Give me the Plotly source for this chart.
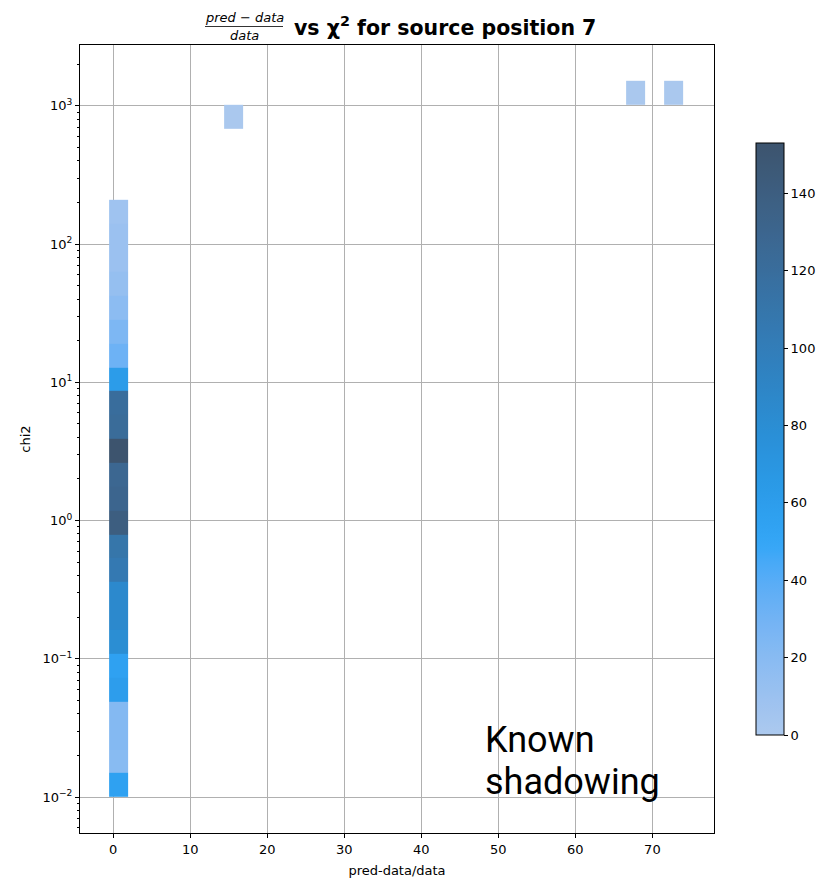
import math
import numpy as np
import plotly.graph_objects as go

# ---- histogram binning: 30 linear bins in pred-data/data, 30 log bins in chi2
x_lo, x_width, n_x = -0.52, 2.4833, 30
logy_lo, logy_width, n_y = -2.0, 0.1727, 30

# counts in the first pred-data/data bin, lowest chi2 bin first
column_counts = [55, 20, 22, 22, 60, 55, 80, 85, 85, 105, 110, 140, 130,
                 128, 153, 122, 120, 62, 32, 25, 18, 13, 10, 10, 8]

# isolated cells: (x bin index, chi2 bin index, count)
outlier_xbin = [6, 27, 29]
outlier_ybin = [28, 29, 29]
outlier_count = [1, 1, 1]

x_ticks = [0, 10, 20, 30, 40, 50, 60, 70]
y_ticks = [0.01, 0.1, 1, 10, 100, 1000]
y_ticktext = ["10<sup>−2</sup>", "10<sup>−1</sup>", "10<sup>0</sup>",
              "10<sup>1</sup>", "10<sup>2</sup>", "10<sup>3</sup>"]
cbar_ticks = [0, 20, 40, 60, 80, 100, 120, 140]

# ---- HUSL helpers (seaborn-style sequential colormap from a seed colour)
M = [[3.2406, -1.5372, -0.4986], [-0.9689, 1.8758, 0.0415], [0.0557, -0.2040, 1.0570]]
M_INV = [[0.4124, 0.3576, 0.1805], [0.2126, 0.7152, 0.0722], [0.0193, 0.1192, 0.9505]]
REF_U, REF_V = 0.19784, 0.46834
KAPPA, EPS = 903.3, 0.008856


def max_chroma(L, H):
    hr = math.radians(H)
    sh, ch = math.sin(hr), math.cos(hr)
    sub1 = (L + 16) ** 3 / 1560896.0
    sub2 = sub1 if sub1 > EPS else L / KAPPA
    best = float("inf")
    for m1, m2, m3 in M:
        top = (0.99915 * m1 + 1.05122 * m2 + 1.14460 * m3) * sub2
        rb = 0.86330 * m3 - 0.17266 * m2
        lb = 0.12949 * m3 - 0.38848 * m1
        bottom = (rb * sh + lb * ch) * sub2
        for t in (0.0, 1.0):
            C = L * (top - 1.05122 * t) / (bottom + 0.17266 * sh * t)
            if 0 < C < best:
                best = C
    return best


def to_lin(c):
    return ((c + 0.055) / 1.055) ** 2.4 if c > 0.04045 else c / 12.92


def from_lin(c):
    return 1.055 * c ** (1 / 2.4) - 0.055 if c > 0.0031308 else 12.92 * c


def rgb_to_husl(r, g, b):
    lin = [to_lin(c) for c in (r, g, b)]
    X, Y, Z = [sum(M_INV[i][j] * lin[j] for j in range(3)) for i in range(3)]
    L = 116 * Y ** (1 / 3) - 16 if Y > EPS else KAPPA * Y
    d = X + 15 * Y + 3 * Z
    U = 13 * L * (4 * X / d - REF_U)
    V = 13 * L * (9 * Y / d - REF_V)
    C = math.hypot(U, V)
    H = math.degrees(math.atan2(V, U)) % 360
    return H, C / max_chroma(L, H) * 100, L


def husl_to_rgb(H, S, L):
    if L > 99.9999:
        return (1.0, 1.0, 1.0)
    if L < 1e-5:
        return (0.0, 0.0, 0.0)
    C = max_chroma(L, H) / 100 * S
    U = math.cos(math.radians(H)) * C
    V = math.sin(math.radians(H)) * C
    t = (L + 16) / 116
    Y = t ** 3 if t ** 3 > EPS else L / KAPPA
    vu = U / (13 * L) + REF_U
    vv = V / (13 * L) + REF_V
    X = -(9 * Y * vu) / ((vu - 4) * vv - vu * vv)
    Z = (9 * Y - 15 * vv * Y - vv * X) / (3 * vv)
    rgb = [sum(M[i][j] * (X, Y, Z)[j] for j in range(3)) for i in range(3)]
    return tuple(min(1.0, max(0.0, from_lin(c))) for c in rgb)


seed = (0x1f / 255, 0x77 / 255, 0xb4 / 255)
h, s, _ = rgb_to_husl(*seed)
xx = np.linspace(-1, 1, int(1.15 * 256))[:256]
lum = np.linspace(35, 80, 256)
ramp = [husl_to_rgb(h, s * math.cos(a), l) for a, l in zip(xx, lum)][::-1]
idx = list(range(0, 256, 5)) + [255]
colorscale = [[i / 255, "rgb(%d,%d,%d)" % tuple(round(255 * c) for c in ramp[i])] for i in idx]

# ---- counts grid
z = [[None] * n_x for _ in range(n_y)]
for k, c in enumerate(column_counts):
    z[k][0] = c
for xi, yi, c in zip(outlier_xbin, outlier_ybin, outlier_count):
    z[yi][xi] = c

x_edges = [x_lo + i * x_width for i in range(n_x + 1)]
y_edges = [10 ** (logy_lo + i * logy_width) for i in range(n_y + 1)]
zmax = max(column_counts + outlier_count)

fig = go.Figure(go.Heatmap(
    x=x_edges, y=y_edges, z=z, zmin=0, zmax=zmax,
    colorscale=colorscale, hoverongaps=False,
    colorbar=dict(
        x=1.0662, xanchor="left", xpad=0, y=0.5, yanchor="middle", ypad=0,
        thickness=28, len=0.7513, outlinewidth=1, outlinecolor="black",
        tickvals=cbar_ticks, ticks="outside", ticklen=4, tickcolor="black",
        tickfont=dict(size=13, color="black"),
    ),
))

L, T, W, H = 80, 45, 634, 788


def px(xp):
    return (xp - L) / W


def py(yp):
    return (T + H - yp) / H


axis_common = dict(
    showline=True, mirror=True, linecolor="black", linewidth=1,
    ticks="outside", ticklen=4, tickcolor="black",
    showgrid=True, gridcolor="#b0b0b0", gridwidth=1, zeroline=False,
    tickfont=dict(size=13, color="black"),
)

fig.update_layout(
    width=822, height=878,
    margin=dict(l=L, r=822 - L - W, t=T, b=878 - T - H, autoexpand=False),
    paper_bgcolor="white", plot_bgcolor="white",
    font=dict(family="DejaVu Sans", size=13, color="black"),
    xaxis=dict(range=[-4.3, 78.0], tickvals=x_ticks,
               title=dict(text="pred-data/data", standoff=11, font=dict(size=13)),
               **axis_common),
    yaxis=dict(type="log", range=[-2.26, 3.44], tickvals=y_ticks, ticktext=y_ticktext,
               minor=dict(ticks="outside", ticklen=2, tickcolor="black", dtick="D1", showgrid=False),
               title=dict(text="chi2", standoff=8, font=dict(size=13)),
               **axis_common),
)

# title: fraction (pred - data) / data followed by bold text
fig.add_annotation(x=px(244), y=py(17), xref="paper", yref="paper", showarrow=False,
                   xanchor="center", yanchor="middle",
                   text="<i>pred − data</i>", font=dict(size=13))
fig.add_annotation(x=px(244), y=py(36), xref="paper", yref="paper", showarrow=False,
                   xanchor="center", yanchor="middle",
                   text="<i>data</i>", font=dict(size=13))
fig.add_shape(type="line", xref="paper", yref="paper", x0=px(205), x1=px(283),
              y0=py(26.5), y1=py(26.5), line=dict(color="black", width=0.8))
fig.add_annotation(x=px(292), y=py(26), xref="paper", yref="paper", showarrow=False,
                   xanchor="left", yanchor="middle",
                   text="<b>vs χ<sup>2</sup> for source position 7</b>",
                   font=dict(size=20.5))

# note on the plot
fig.add_annotation(x=px(484), y=py(762), xref="paper", yref="paper", showarrow=False,
                   xanchor="left", yanchor="bottom", text="Known", borderpad=0,
                   font=dict(family="Roboto", size=36, color="black"))
fig.add_annotation(x=px(484), y=py(804), xref="paper", yref="paper", showarrow=False,
                   xanchor="left", yanchor="bottom", text="shadowing", borderpad=0,
                   font=dict(family="Roboto", size=36, color="black"))

fig.write_html("out.html")
